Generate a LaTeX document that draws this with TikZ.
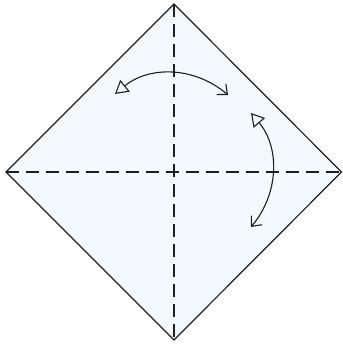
\documentclass[tikz,border=0pt]{standalone}
\usepackage{tikz}
\usetikzlibrary{arrows.meta}

\definecolor{paperblue}{HTML}{F3F9FC}
\definecolor{inkgray}{HTML}{1F1F1F}

\begin{document}
\begin{tikzpicture}[x=1pt, y=1pt,
            paper/.style={draw=inkgray, fill=paperblue, line width=1.2pt, line join=miter},
            foldline/.style={draw=inkgray, line width=1.2pt, dash pattern=on 13pt off 7pt},
            turn/.style={draw=inkgray, line width=1.1pt,
                {Triangle[open, length=13pt, width=15pt, line width=1.1pt]}-{Straight Barb[length=8pt, width=14pt, line width=1.1pt]},
                bend left=40}
        ]
            \useasboundingbox (0,0) rectangle (342,344);

            % corners of the square
            \coordinate (top) at (174,340);
            \coordinate (lft) at (6,172);
            \coordinate (rgt) at (341.5,172);
            \coordinate (bot) at (174,4);
            \coordinate (mid) at (174,172);

            % the paper
            \draw[paper] (top) -- (rgt) -- (bot) -- (lft) -- cycle;

            % diagonal folds
            \draw[foldline] (top) -- (bot);
            \draw[foldline] (lft) -- (rgt);

            % turn-over arrows
            \coordinate (t1) at (115,250);
            \coordinate (t2) at (228,249);
            \coordinate (r1) at (251,231);
            \coordinate (r2) at (251,117);
            \draw[turn] (t1) to (t2);
            \draw[turn] (r1) to (r2);
        \end{tikzpicture}
\end{document}
